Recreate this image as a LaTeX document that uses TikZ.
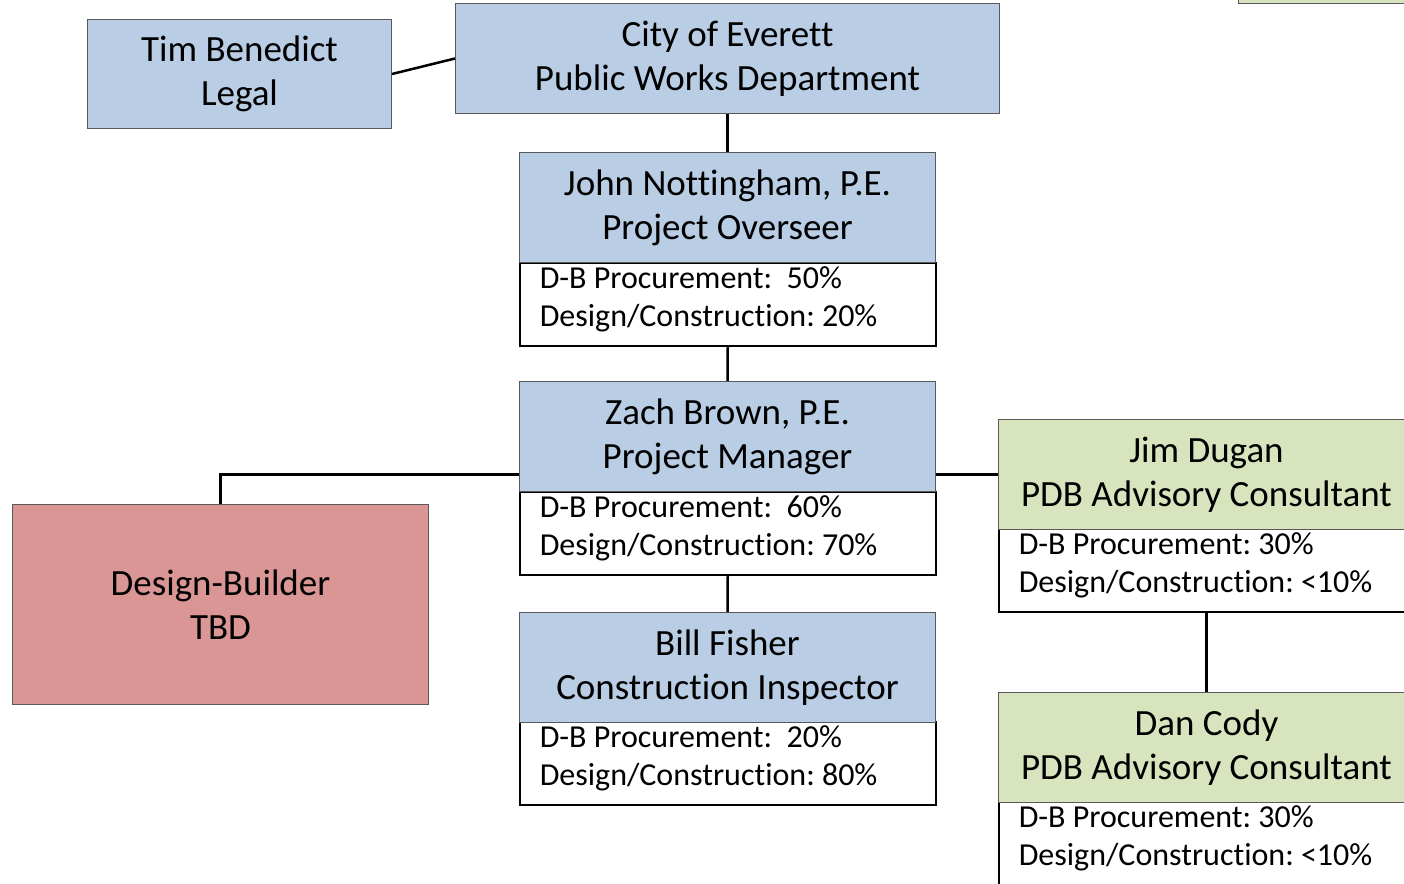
\documentclass[tikz,border=0pt]{standalone}
\usepackage{fontspec}
\setmainfont{Carlito}[RawFeature={-liga;-clig;-dlig;-calt}]
\frenchspacing
\definecolor{hdrblue}{HTML}{B9CDE5}
\definecolor{hdrgreen}{HTML}{D7E4BD}
\definecolor{dbred}{HTML}{D99694}
\definecolor{edgegray}{HTML}{595959}
% two left-aligned lines of percentages inside a white box
\newcommand\shares[2]{\parbox{376pt}{\fontsize{32}{38}\selectfont #1\\#2\par\vspace{10pt}}}
\tikzset{
  x=1pt, y=-1pt,
  hdr/.style={draw=edgegray, line width=1pt, anchor=north west, inner sep=0pt,
    align=center, minimum width=#1, minimum height=110pt,
    font=\fontsize{37}{44}\selectfont},
  bodybox/.style={draw=black, line width=1.5pt, fill=white, anchor=north west,
    inner xsep=20pt, inner ysep=0pt, minimum width=#1, minimum height=83pt},
  link/.style={draw=black, line width=2.5pt},
}
\begin{document}
\begin{tikzpicture}
\useasboundingbox (0,0) rectangle (1404,883);
\clip (0,0) rectangle (1404,883);

% top level
\node[hdr=304pt, fill=hdrblue, minimum height=109pt] (tim) at (87,19) {Tim Benedict\\Legal};
\node[hdr=544pt, fill=hdrblue] (city) at (455,3) {City of Everett\\Public Works Department};
\node[hdr=200pt, fill=hdrgreen] (topbox) at (1238,-107) {};

% city staff
\node[bodybox=416pt] (johnb) at (519,262) {\shares{D-B Procurement:\ \ 50\%}{Design/Construction: 20\%}};
\node[hdr=416pt, fill=hdrblue] (johnh) at (519,152) {John Nottingham, P.E.\\Project Overseer};

\node[bodybox=416pt] (zachb) at (519,491) {\shares{D-B Procurement:\ \ 60\%}{Design/Construction: 70\%}};
\node[hdr=416pt, fill=hdrblue] (zachh) at (519,381) {Zach Brown, P.E.\\Project Manager};

\node[bodybox=416pt] (billb) at (519,721) {\shares{D-B Procurement:\ \ 20\%}{Design/Construction: 80\%}};
\node[hdr=416pt, fill=hdrblue] (billh) at (519,612) {Bill Fisher\\Construction Inspector};

% design-builder
\node[hdr=416pt, fill=dbred, minimum height=200pt] (db) at (12,504) {Design-Builder\\TBD};

% advisory consultants
\node[bodybox=416pt] (jimb) at (998,528) {\shares{D-B Procurement: 30\%}{Design/Construction: <10\%}};
\node[hdr=416pt, fill=hdrgreen] (jimh) at (998,419) {Jim Dugan\\PDB Advisory Consultant};

\node[bodybox=416pt] (danb) at (998,801) {\shares{D-B Procurement: 30\%}{Design/Construction: <10\%}};
\node[hdr=416pt, fill=hdrgreen] (danh) at (998,692) {Dan Cody\\PDB Advisory Consultant};

% connectors
\draw[link] (tim.east) -- (city.west);
\draw[link] (city.south) -- (johnh.north);
\draw[link] (johnb.south) -- (zachh.north);
\draw[link] (zachb.south) -- (billh.north);
\draw[link] (zachh.west |- jimh.west) -| (db.north);
\draw[link] (zachh.east |- jimh.west) -- (jimh.west);
\draw[link] (jimb.south -| jimh.north) -- (danh.north);
\end{tikzpicture}
\end{document}
